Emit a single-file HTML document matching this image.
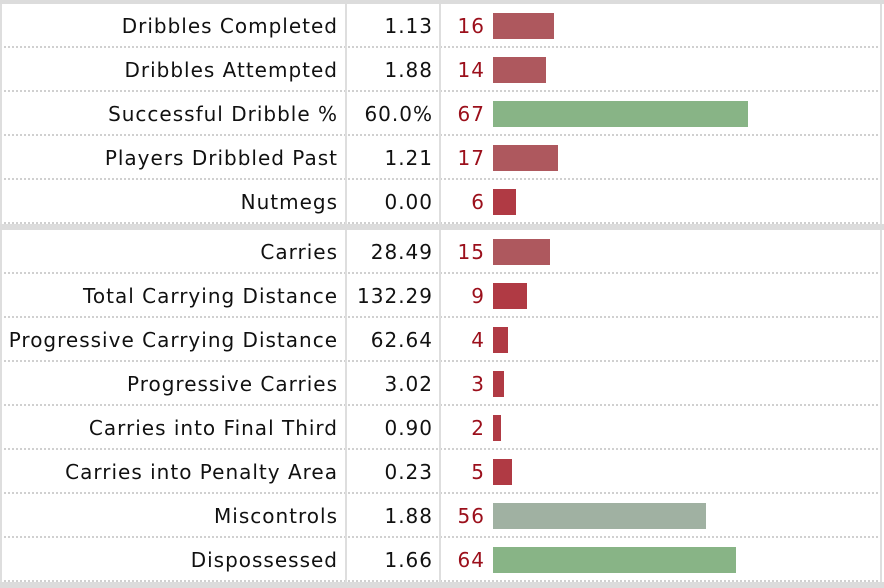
<!DOCTYPE html>
<html><head><meta charset="utf-8">
<style>
body{margin:0;width:884px;height:588px;background:#fff;overflow:hidden;font-family:"DejaVu Sans","Liberation Sans",sans-serif;}
#wrap{position:absolute;left:0;top:0;width:884px;height:588px;}
.topbar{position:absolute;left:0;top:0;width:884px;height:4px;background:#dcdcdc;}
.sep{position:absolute;left:0;width:884px;height:6px;background:#dcdcdc;}
.row{position:absolute;left:0;width:882px;height:44px;border-bottom:2px dotted #d0d0d0;box-sizing:border-box;}
.lbl{position:absolute;left:0;width:338px;text-align:right;font-size:20px;line-height:44px;color:#111;letter-spacing:1px;white-space:nowrap;}
.val{position:absolute;left:340px;width:93px;text-align:right;font-size:20px;line-height:44px;color:#111;letter-spacing:1px;}
.rk{position:absolute;left:442px;width:43px;text-align:right;font-size:20px;line-height:44px;color:#9b0f1b;letter-spacing:1px;}
.bar{position:absolute;left:493px;top:9px;height:26px;}
.vl{position:absolute;width:2px;background:#dedede;}
</style></head><body>
<div id="wrap">
<div class="topbar"></div>
</div>
<script>
const labels1=["Dribbles Completed","Dribbles Attempted","Successful Dribble %","Players Dribbled Past","Nutmegs"];
const values1=["1.13","1.88","60.0%","1.21","0.00"];
const ranks1=[16,14,67,17,6];
const labels2=["Carries","Total Carrying Distance","Progressive Carrying Distance","Progressive Carries","Carries into Final Third","Carries into Penalty Area","Miscontrols","Dispossessed"];
const values2=["28.49","132.29","62.64","3.02","0.90","0.23","1.88","1.66"];
const ranks2=[15,9,4,3,2,5,56,64];
const wrap=document.getElementById('wrap');
function color(p){
  if(p<10) return '#b03a44';
  if(p<30) return '#ae585e';
  if(p<60) return '#a0b1a2';
  return '#88b486';
}
function section(labels,values,ranks,top){
  labels.forEach((l,i)=>{
    const r=document.createElement('div');
    r.className='row';r.style.top=(top+i*44)+'px';
    
    
    r.innerHTML='<div class="lbl">'+l+'</div>'+
      '<div class="val">'+values[i]+'</div>'+
      '<div class="rk">'+ranks[i]+'</div>';
    const b=document.createElement('div');
    b.className='bar';
    
    
    b.style.width=(ranks[i]*3.8)+'px';
    b.style.background=color(ranks[i]);
    r.appendChild(b);
    wrap.appendChild(r);
  });
  const h=labels.length*44;
  [0,345,439,880].forEach((x)=>{
    const v=document.createElement('div');
    v.className='vl';v.style.left=x+'px';v.style.top=top+'px';v.style.height=h+'px';
    
    
    wrap.appendChild(v);
  });
}
section(labels1,values1,ranks1,4);
const s=document.createElement('div');s.className='sep';s.style.top='224px';


wrap.appendChild(s);
section(labels2,values2,ranks2,230);
const s2=document.createElement('div');s2.className='sep';s2.style.top='582px';


wrap.appendChild(s2);
</script>
</body></html>
